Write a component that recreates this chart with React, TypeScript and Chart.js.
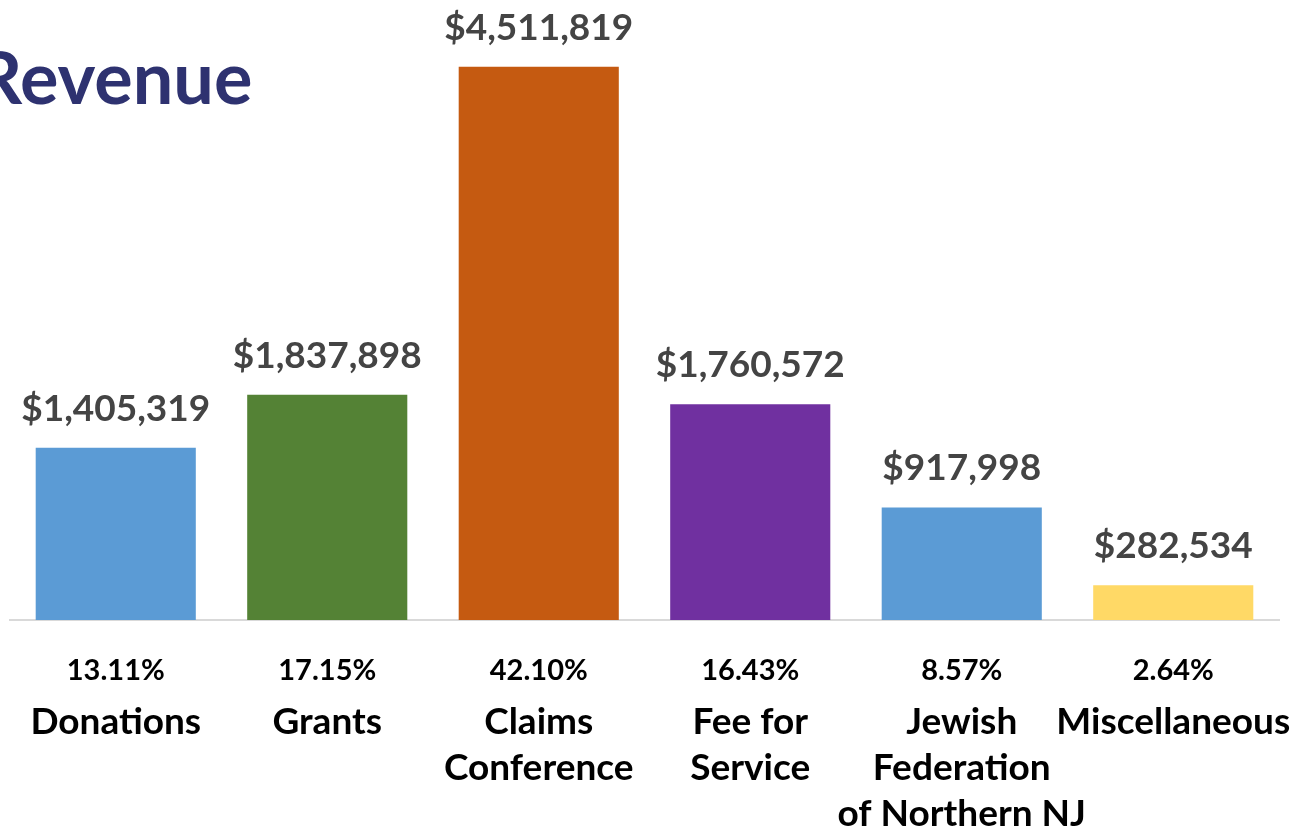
import React, { useEffect, useRef } from "react";
import { Chart, registerables } from "chart.js";

Chart.register(...registerables);

const categories: string[][] = [
  ["Donations"],
  ["Grants"],
  ["Claims", "Conference"],
  ["Fee for", "Service"],
  ["Jewish", "Federation", "of Northern NJ"],
  ["Miscellaneous"],
];
const values: number[] = [1405319, 1837898, 4511819, 1760572, 917998, 282534];
const percents: string[] = ["13.11%", "17.15%", "42.10%", "16.43%", "8.57%", "2.64%"];
const colors: string[] = ["#5B9BD5", "#548235", "#C55A11", "#7030A0", "#5B9BD5", "#FFD966"];
const title = "Revenue";

const fmt = (v: number) => "$" + v.toLocaleString("en-US");

const labelPlugin = {
  id: "customLabels",
  afterDatasetsDraw(chart: any) {
    const ctx = chart.ctx;
    const meta = chart.getDatasetMeta(0);
    const xScale = chart.scales.x;
    const bottom = chart.chartArea.bottom;
    ctx.save();
    ctx.textAlign = "center";
    ctx.textBaseline = "alphabetic";
    // value labels
    ctx.fillStyle = "#444444";
    ctx.font = "bold 37px Lato";
    meta.data.forEach((bar: any, i: number) => {
      ctx.fillText(fmt(values[i]), bar.x, bar.y - 27);
    });
    // percentages and category names
    categories.forEach((lines, i) => {
      const x = xScale.getPixelForValue(i);
      ctx.fillStyle = "#000000";
      ctx.font = "bold 29px Lato";
      ctx.fillText(percents[i], x, bottom + 60);
      ctx.font = "bold 37px Lato";
      lines.forEach((ln, j) => {
        ctx.fillText(ln, x, bottom + 114 + j * 46);
      });
    });
    // title
    ctx.textAlign = "left";
    ctx.fillStyle = "#2E3270";
    ctx.font = "bold 72px Lato";
    ctx.fillText(title, -24, 104);
    ctx.restore();
  },
};

export default function App() {
  const ref = useRef<HTMLCanvasElement | null>(null);
  useEffect(() => {
    if (!ref.current) return;
    const chart = new Chart(ref.current, {
      type: "bar",
      data: {
        labels: categories.map((c) => c.join(" ")),
        datasets: [
          {
            data: values,
            backgroundColor: colors,
            barPercentage: 0.757,
            categoryPercentage: 1,
          },
        ],
      },
      options: {
        responsive: false,
        animation: false,
        layout: { padding: { left: 10, right: 22, top: 7, bottom: 204 } },
        plugins: { legend: { display: false }, tooltip: { enabled: false } },
        scales: {
          x: {
            grid: { display: false },
            ticks: { display: false },
            border: { display: true, color: "#D9D9D9", width: 2 },
          },
          y: {
            display: false,
            min: 0,
            max: 5000000,
          },
        },
      },
      plugins: [labelPlugin],
    });
    return () => chart.destroy();
  }, []);
  return (
    <div style={{ position: "absolute", left: 0, top: 0, width: 1301, height: 832, background: "#fff" }}>
      <canvas ref={ref} width={1301} height={832} style={{ width: 1301, height: 832 }} />
    </div>
  );
}
